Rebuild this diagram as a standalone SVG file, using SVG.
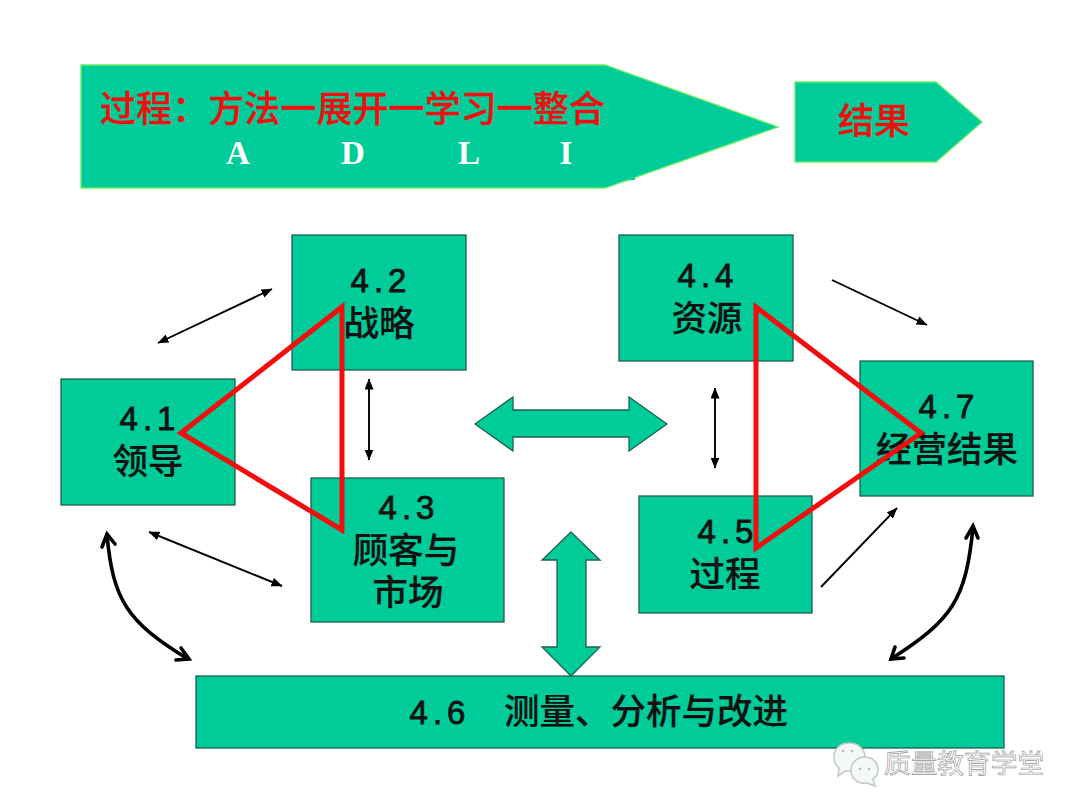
<svg xmlns="http://www.w3.org/2000/svg" width="1080" height="810" viewBox="0 0 1080 810">
<style>
.box{fill:#00cc99;stroke:#1f5f50;stroke-width:1.3}
.head{fill:#00cc99;stroke:#66ee66;stroke-width:1.3}
.t{font-family:"Noto Sans CJK SC","Liberation Sans",sans-serif;font-size:35.5px;fill:#111;stroke:#111;stroke-width:.2;text-anchor:middle;font-weight:500}
.n{font-family:"Liberation Sans",sans-serif;font-size:33px;stroke-width:.8;letter-spacing:5px}
.r{font-family:"Noto Sans CJK SC","Liberation Sans",sans-serif;font-size:36px;fill:#ee1010;stroke:#ee1010;stroke-width:.3;font-weight:500}
.w{font-family:"Liberation Serif",serif;font-size:33px;font-weight:700;fill:#fff;text-anchor:middle}
.thin{fill:none;stroke:#000;stroke-width:1.9;marker-start:url(#a);marker-end:url(#a)}
.one{fill:none;stroke:#000;stroke-width:1.9;marker-end:url(#a)}
.curve{fill:none;stroke:#000;stroke-width:3.6;stroke-linecap:round}
.open{fill:none;stroke:#000;stroke-width:3.6;stroke-linecap:round;stroke-linejoin:miter}
.tri{fill:none;stroke:#f50c0c;stroke-width:5;stroke-linejoin:miter}
.bub{fill:#f4f8f6;stroke:#c4c8c6;stroke-width:1.6}
</style>
<defs>
<marker id="a" viewBox="0 0 11 9" refX="10.5" refY="4.5" markerWidth="11" markerHeight="9" markerUnits="userSpaceOnUse" orient="auto-start-reverse"><path d="M0 0L11 4.5L0 9z" fill="#000"/></marker>
</defs>
<rect width="1080" height="810" fill="#fff"/>
<g id="process-banner">
<path class="head" d="M81 65H605L778 127L605 188H81z"/>
<path d="M626 180.5L635 177V180z" fill="#00cc99"/>
<text class="r" x="100" y="122" textLength="505" lengthAdjust="spacing">过程：方法一展开一学习一整合</text>
<text class="w" x="238" y="164">A</text><text class="w" x="353" y="164">D</text><text class="w" x="469" y="164">L</text><text class="w" x="566" y="164">I</text>
</g>
<g id="result-banner">
<path class="head" d="M795 82H936L982 122L936 162H795z"/>
<text class="r" x="838" y="134">结果</text>
</g>
<g id="connectors">
<line class="thin" x1="158" y1="343" x2="272" y2="289"/>
<line class="thin" x1="369" y1="379" x2="369" y2="460"/>
<line class="thin" x1="149" y1="532" x2="282" y2="586"/>
<line class="one" x1="832" y1="280" x2="927" y2="325"/>
<line class="thin" x1="715" y1="388" x2="715" y2="468"/>
<line class="one" x1="821" y1="587" x2="897" y2="508"/>
<path class="curve" d="M107 535C113 600 127 622 188 659"/>
<path class="open" d="M102 547L107 534L115 544M176 660L189 659L181 648"/>
<path class="curve" d="M973 527C966 600 952 620 891 659"/>
<path class="open" d="M966 538L973 526L978 538M895 647L891 659L904 658"/>
</g>
<g id="n41"><rect class="box" x="61" y="379" width="174" height="126"/><text class="t"><tspan class="n" x="150" y="430">4.1</tspan><tspan x="148" y="474">领导</tspan></text></g>
<g id="n42"><rect class="box" x="292" y="235" width="174" height="135"/><text class="t"><tspan class="n" x="381" y="292">4.2</tspan><tspan x="379" y="336">战略</tspan></text></g>
<g id="n43"><rect class="box" x="311" y="478" width="193" height="144"/><text class="t"><tspan class="n" x="409" y="519">4.3</tspan><tspan x="406" y="563">顾客与</tspan><tspan x="408" y="605">市场</tspan></text></g>
<g id="n44"><rect class="box" x="619" y="235" width="174" height="126"/><text class="t"><tspan class="n" x="708" y="287">4.4</tspan><tspan x="707" y="331">资源</tspan></text></g>
<g id="n45"><rect class="box" x="639" y="496" width="173" height="117"/><text class="t"><tspan class="n" x="728" y="543">4.5</tspan><tspan x="725" y="587">过程</tspan></text></g>
<g id="n47"><rect class="box" x="860" y="361" width="173" height="135"/><text class="t"><tspan class="n" x="949" y="418">4.7</tspan><tspan x="947" y="462">经营结果</tspan></text></g>
<g id="n46"><rect class="box" x="196" y="676" width="808" height="72"/><text class="t"><tspan class="n" x="440" y="724">4.6</tspan><tspan x="646" y="724">测量、分析与改进</tspan></text></g>
<g id="arrow-horizontal"><path class="box" d="M475 424L513 397V410H629V397L667 424L629 451V437H513V451z"/></g>
<g id="arrow-vertical"><path class="box" d="M571 532L600 560H586V647H600L571 676L542 647H557V560H542z"/></g>
<g id="triangles">
<path class="tri" d="M342 307L342 530L181 433z"/>
<path class="tri" d="M756 307L921 433L756 548z"/>
</g>
<g id="watermark">
<path class="bub" d="M849 743C858 743 865 749 865 757C865 765 858 771 849 771L845 771L838 776L839 768C835 765 834 761 834 757C834 749 840 743 849 743z"/>
<path class="bub" d="M865 757C873 757 878 763 878 770C878 774 876 777 873 779L875 786L867 783C858 785 851 778 851 770C851 763 857 757 865 757z"/>
<circle cx="843" cy="751" r="1.3" fill="#bbb"/><circle cx="852" cy="751" r="1.3" fill="#bbb"/><circle cx="860" cy="769" r="1.3" fill="#bbb"/><circle cx="869" cy="769" r="1.3" fill="#bbb"/>
<text x="884" y="773" font-family="'Noto Sans CJK SC',sans-serif" font-size="26.7" fill="#fff" stroke="#999" stroke-width="0.7">质量教育学堂</text>
</g>
</svg>
